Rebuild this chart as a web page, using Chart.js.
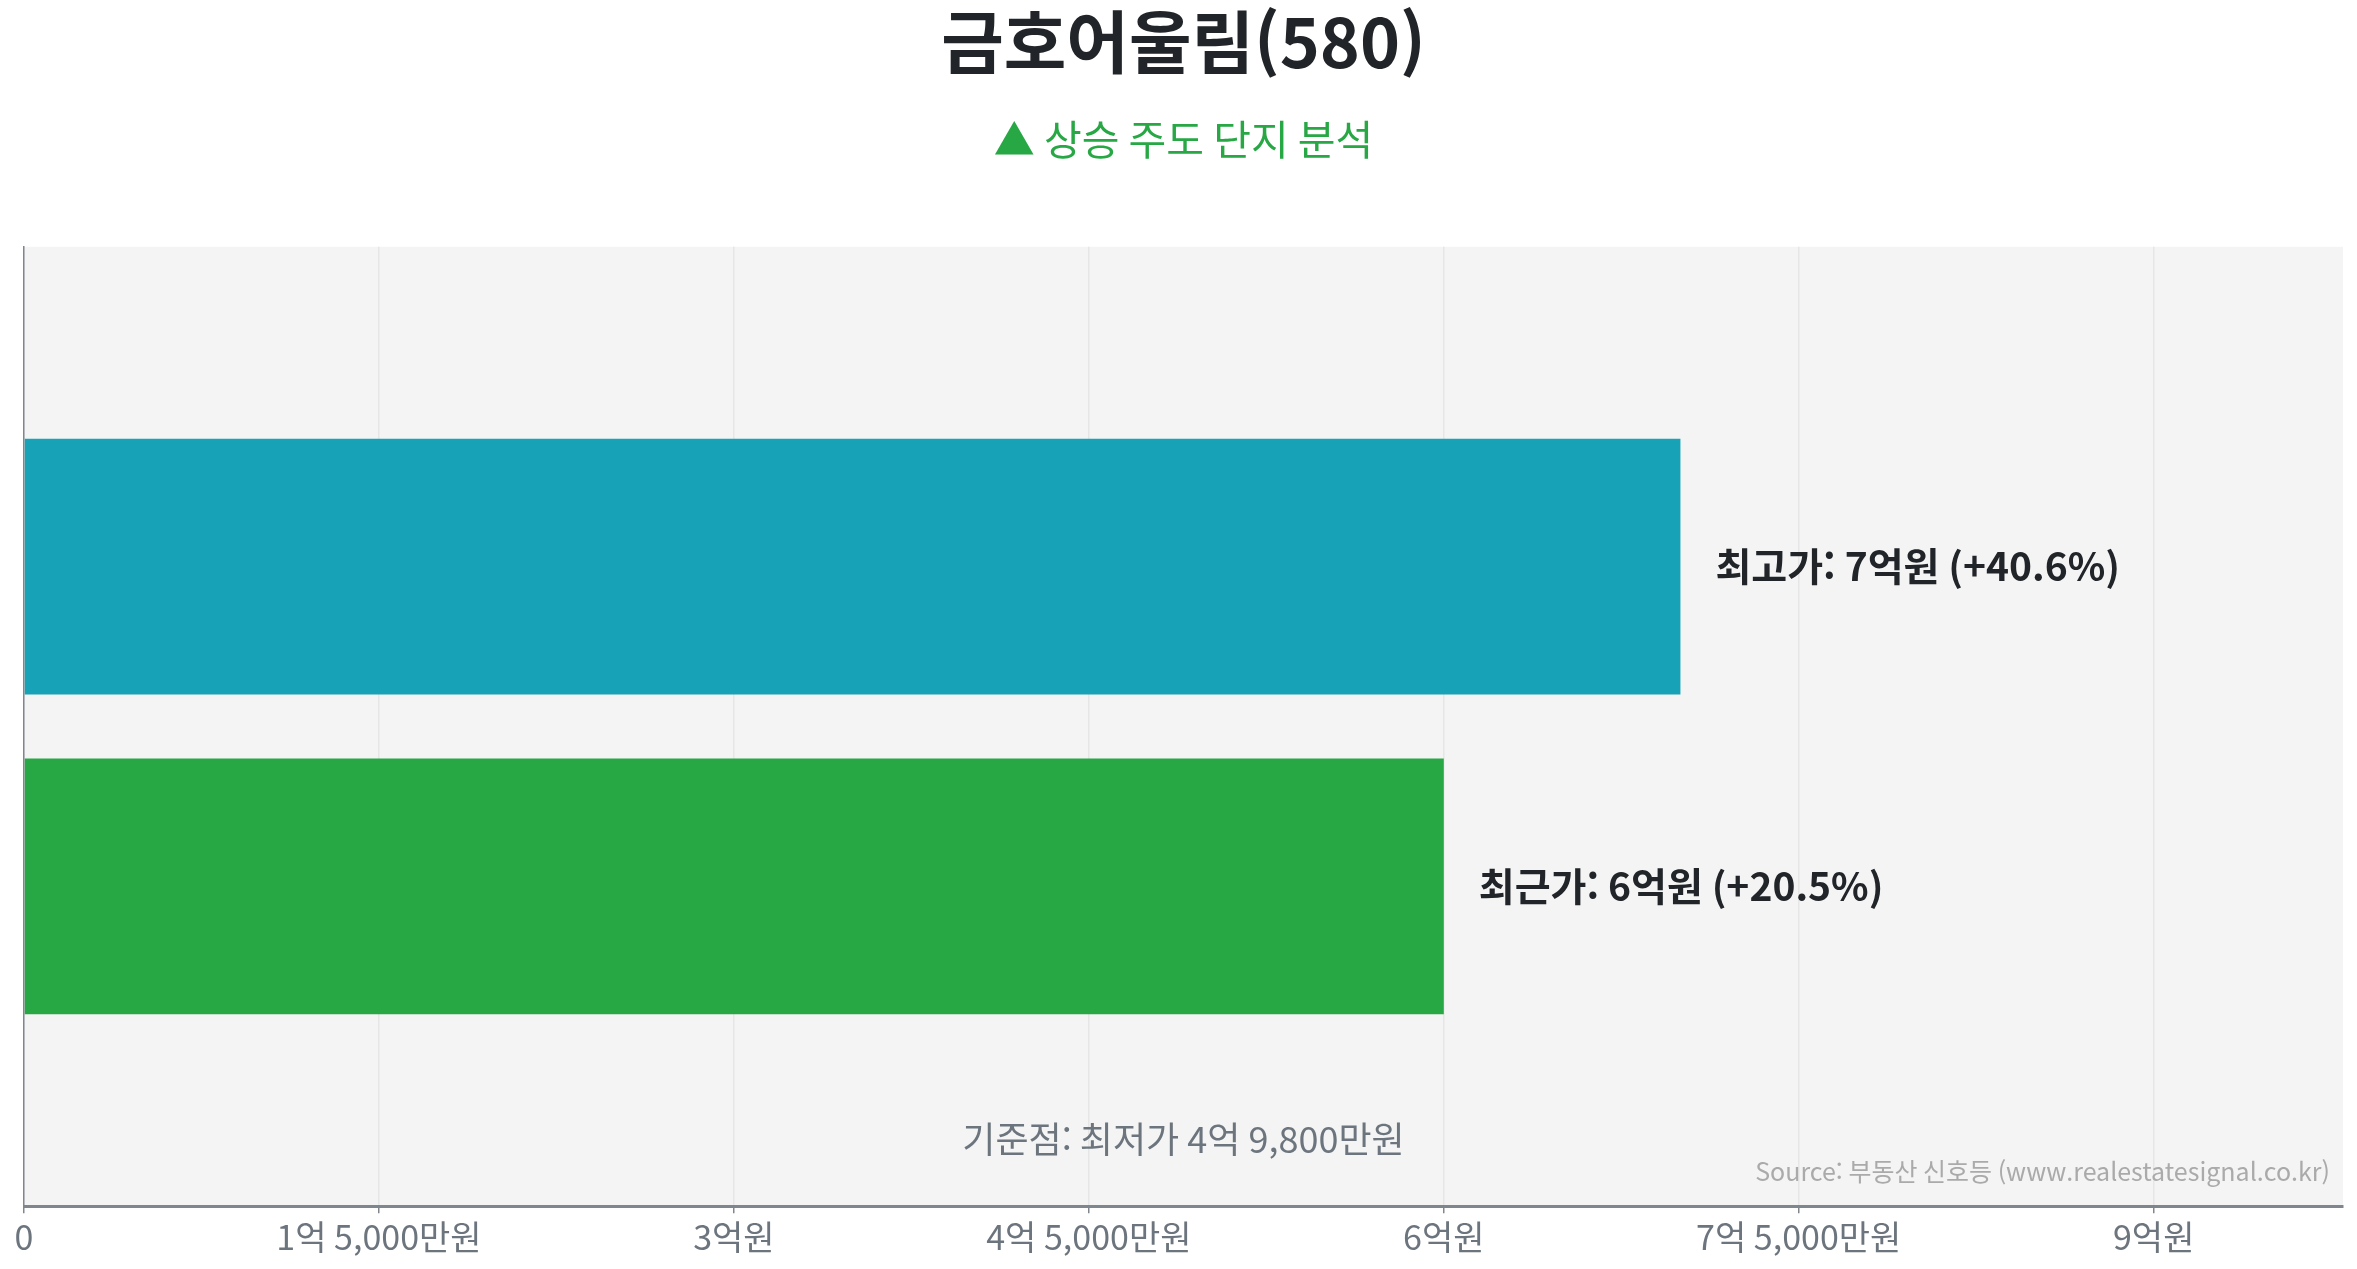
<!DOCTYPE html>
<html lang="ko">
<head>
<meta charset="utf-8">
<title>금호어울림(580)</title>
<script src="https://cdn.jsdelivr.net/npm/chart.js@4.4.1/dist/chart.umd.min.js"></script>
<style>
  html, body { margin: 0; padding: 0; background: #ffffff; }
  #wrap { width: 2357px; height: 1269px; position: relative; }
</style>
</head>
<body>
<div id="wrap"><canvas id="chart"></canvas></div>
<script>
// --- 데이터 ---
const titleText = '금호어울림(580)';
const subtitleText = '▲ 상승 주도 단지 분석';
const categories = ['최고가', '최근가'];
const prices = [700000000, 600000000];
const barColors = ['#17a2b8', '#28a745'];
const basePrice = 498000000; // 기준점: 최저가
const xMax = 980000000;
const xTickValues = [0, 150000000, 300000000, 450000000, 600000000, 750000000, 900000000];
const sourceText = 'Source: 부동산 신호등 (www.realestatesignal.co.kr)';

const FONT = '"Noto Sans CJK KR", "Noto Sans", sans-serif';

// 금액을 "1억 5,000만원" 형태로 변환
function formatWon(v) {
    if (v === 0) return '0';
    const eok = Math.floor(v / 100000000);
    const man = Math.round((v % 100000000) / 10000);
    let s = '';
    if (eok > 0) s += eok + '억';
    if (man > 0) s += (s ? ' ' : '') + man.toLocaleString('en-US') + '만';
    return s + '원';
}

// 위아래 빈 칸을 둔 카테고리 (막대 위치 맞추기용)
const yLabels = [''].concat(categories, ['']);
const yValues = [null].concat(prices, [null]);
const yColors = ['transparent'].concat(barColors, ['transparent']);

// 차트 영역 배경
const areaBackground = {
    id: 'areaBackground',
    beforeDraw(chart) {
        const { ctx, chartArea: a } = chart;
        ctx.save();
        ctx.fillStyle = '#f4f4f4';
        ctx.fillRect(a.left, a.top, a.right - a.left, a.bottom - a.top);
        ctx.restore();
    }
};

// 막대 옆 라벨 + 기준점 / 출처 문구
const barLabels = {
    id: 'barLabels',
    afterDatasetsDraw(chart) {
        const { ctx, chartArea: a } = chart;
        const meta = chart.getDatasetMeta(0);
        ctx.save();
        ctx.font = 'bold 39px ' + FONT;
        ctx.fillStyle = '#212529';
        ctx.textAlign = 'left';
        ctx.textBaseline = 'middle';
        categories.forEach((name, i) => {
            const bar = meta.data[i + 1];
            const pct = ((prices[i] / basePrice - 1) * 100).toFixed(1);
            ctx.fillText(`${name}: ${formatWon(prices[i])} (+${pct}%)`, bar.x + 35, bar.y);
        });

        ctx.font = '36px ' + FONT;
        ctx.fillStyle = '#6c757d';
        ctx.textAlign = 'center';
        ctx.fillText('기준점: 최저가 ' + formatWon(basePrice), (a.left + a.right) / 2, a.bottom - 67);

        ctx.font = '25px ' + FONT;
        ctx.fillStyle = '#aaaaaa';
        ctx.textAlign = 'right';
        ctx.fillText(sourceText, a.right - 13, a.bottom - 35);
        ctx.restore();
    }
};

new Chart(document.getElementById('chart'), {
    type: 'bar',
    data: {
        labels: yLabels,
        datasets: [{
            data: yValues,
            backgroundColor: yColors,
            borderWidth: 0,
            categoryPercentage: 0.8,
            barPercentage: 1.0
        }]
    },
    options: {
        indexAxis: 'y',
        responsive: true,
        maintainAspectRatio: false,
        devicePixelRatio: 1,
        animation: false,
        layout: { padding: { left: 24, right: 14, top: 0, bottom: 9 } },
        scales: {
            x: {
                min: 0,
                max: xMax,
                afterBuildTicks: scale => {
                    scale.ticks = xTickValues.map(v => ({ value: v }));
                },
                ticks: {
                    color: '#6c757d',
                    font: { family: FONT, size: 34 },
                    padding: 3,
                    maxRotation: 0,
                    autoSkip: false,
                    callback: v => formatWon(v)
                },
                grid: {
                    color: '#e6e6e6',
                    lineWidth: 1.5,
                    tickColor: '#80868e',
                    tickLength: 7
                },
                border: { color: '#80868e', width: 3 }
            },
            y: {
                offset: false,
                ticks: { display: false },
                grid: { display: false, drawTicks: false },
                border: { color: '#80868e', width: 1.5 }
            }
        },
        plugins: {
            legend: { display: false },
            tooltip: { enabled: false },
            title: {
                display: true,
                text: titleText,
                color: '#212529',
                font: { family: FONT, size: 68, weight: 'bold' },
                padding: { top: 1, bottom: 32 }
            },
            subtitle: {
                display: true,
                text: subtitleText,
                color: '#28a745',
                font: { family: FONT, size: 41 },
                padding: { top: 0, bottom: 83 }
            }
        }
    },
    plugins: [areaBackground, barLabels]
});
</script>
</body>
</html>
